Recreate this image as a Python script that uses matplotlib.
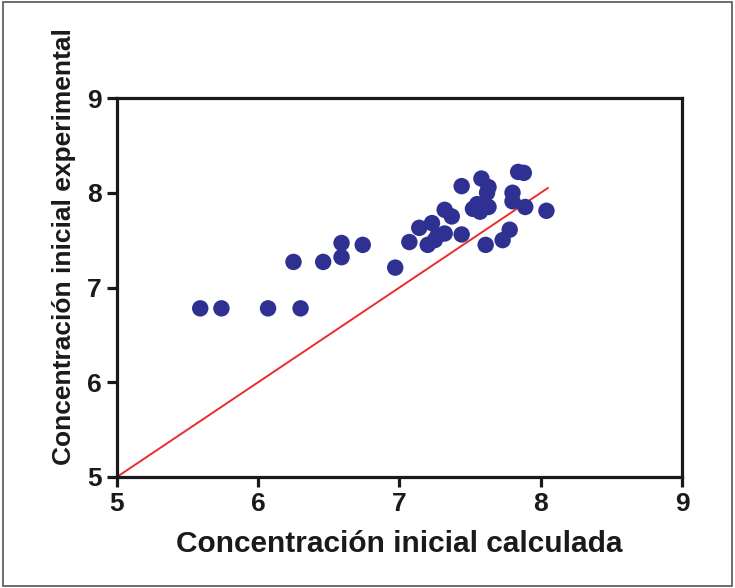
import matplotlib
matplotlib.use("Agg")
import matplotlib.pyplot as plt

# calculated vs experimental initial concentration
calc = [5.59, 5.74, 6.07, 6.30,
        6.25, 6.46, 6.59, 6.59, 6.74, 6.97,
        7.07, 7.14, 7.23, 7.20, 7.25, 7.27, 7.32, 7.32, 7.37, 7.44,
        7.44, 7.58, 7.63, 7.62, 7.55, 7.52, 7.57, 7.63, 7.61, 7.73, 7.78,
        7.80, 7.80, 7.84, 7.88, 7.89, 8.04]
expe = [6.78, 6.78, 6.78, 6.78,
        7.27, 7.27, 7.47, 7.32, 7.45, 7.21,
        7.48, 7.63, 7.68, 7.45, 7.50, 7.55, 7.57, 7.82, 7.75, 7.56,
        8.07, 8.15, 8.06, 8.00, 7.88, 7.83, 7.80, 7.85, 7.45, 7.50, 7.61,
        8.00, 7.91, 8.22, 8.21, 7.85, 7.81]

# identity line
line_x = [5, 8.05]
line_y = [5, 8.05]

ticks = [5, 6, 7, 8, 9]

fig = plt.figure(figsize=(7.35, 5.88), dpi=100)
# thin frame round the whole picture
fig.patches.append(plt.Rectangle((0.004, 0.004), 0.992, 0.992, transform=fig.transFigure,
                                 fill=False, edgecolor='#555555', linewidth=1.2))

ax = fig.add_axes([0.159, 0.1888, 0.769, 0.6445])
ax.plot(line_x, line_y, color='#ee2b2b', linewidth=1.4, zorder=2)
ax.scatter(calc, expe, s=140, color='#2e3192', edgecolors='none', zorder=3)

ax.set_xlim(5, 9)
ax.set_ylim(5, 9)
ax.set_xticks(ticks)
ax.set_yticks(ticks)

for sp in ax.spines.values():
    sp.set_linewidth(2.3)
    sp.set_color('#1a1a1a')
ax.tick_params(direction='out', length=7, width=2.3, color='#1a1a1a', pad=4)
for lab in ax.get_xticklabels() + ax.get_yticklabels():
    lab.set_family('Liberation Sans')
    lab.set_fontweight('bold')
    lab.set_fontsize(19)
    lab.set_color('#1a1a1a')

ax.set_xlabel('Concentración inicial calculada', family='Liberation Sans',
              fontweight='bold', fontsize=21.5, color='#1a1a1a', labelpad=10)
ax.set_ylabel('Concentración inicial experimental', family='Liberation Sans',
              fontweight='bold', fontsize=19, color='#1a1a1a')
ax.yaxis.set_label_coords(-0.073, 0.607)

fig.savefig('out.png', dpi=100)
